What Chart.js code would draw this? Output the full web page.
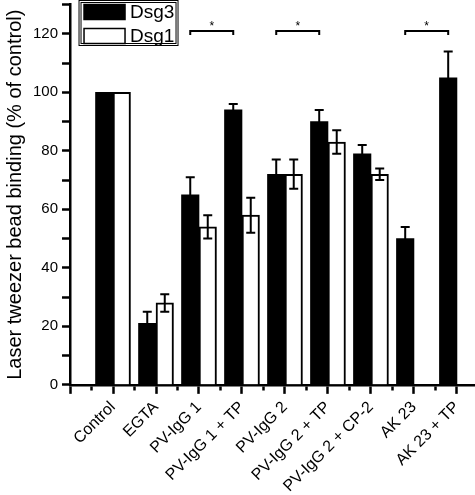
<!DOCTYPE html>
<html>
<head>
<meta charset="utf-8">
<script src="https://cdn.jsdelivr.net/npm/chart.js@4.4.0/dist/chart.umd.min.js"></script>
<style>
  html, body { margin: 0; padding: 0; background: #fff; }
  #wrap { width: 475px; height: 495px; }
</style>
</head>
<body>
<div id="wrap"><canvas id="myChart"></canvas></div>
<script>
var categories = ["Control", "EGTA", "PV-IgG 1", "PV-IgG 1 + TP", "PV-IgG 2",
  "PV-IgG 2 + TP", "PV-IgG 2 + CP-2", "AK 23", "AK 23 + TP"];
var dsg3Values = [100, 21, 65, 94, 72, 90, 79, 50, 105];
var dsg3Errors = [0, 4, 6, 2, 5, 4, 3, 4, 9];
var dsg1Values = [100, 28, 54, 58, 72, 83, 72, null, null];
var dsg1Errors = [0, 3, 4, 6, 5, 4, 2, null, null];
// Dsg3 bars joined by a significance bracket (category indexes)
var sigPairs = [[2, 3], [4, 5], [7, 8]];
var sigLevel = 121;
var yLabelled = [0, 20, 40, 60, 80, 100, 120];

var FONT = "'Liberation Sans', Arial, Helvetica, sans-serif";

function toPoints(values) {
  return values.map(function (v, i) { return { x: i + 1, y: v }; });
}

// error bars with caps, drawn on top of the bars
var errorBars = {
  id: 'errorBars',
  afterDatasetsDraw: function (chart) {
    var ctx = chart.ctx, yScale = chart.scales.y;
    chart.data.datasets.forEach(function (ds, di) {
      var meta = chart.getDatasetMeta(di);
      meta.data.forEach(function (bar, i) {
        var v = ds.data[i].y, e = ds.errors[i];
        if (v == null || !e) return;
        var top = yScale.getPixelForValue(v + e);
        var bot = yScale.getPixelForValue(v - e);
        ctx.save();
        ctx.strokeStyle = '#000';
        ctx.lineWidth = 2;
        ctx.beginPath();
        ctx.moveTo(bar.x, top); ctx.lineTo(bar.x, bot);
        ctx.moveTo(bar.x - 4.5, top); ctx.lineTo(bar.x + 4.5, top);
        ctx.moveTo(bar.x - 4.5, bot); ctx.lineTo(bar.x + 4.5, bot);
        ctx.stroke();
        ctx.restore();
      });
    });
  }
};

// "*" brackets between Dsg3 bars
var sigBrackets = {
  id: 'sigBrackets',
  afterDatasetsDraw: function (chart) {
    var ctx = chart.ctx, yScale = chart.scales.y;
    var bars = chart.getDatasetMeta(0).data;
    var y = yScale.getPixelForValue(sigLevel);
    ctx.save();
    ctx.strokeStyle = '#000';
    ctx.fillStyle = '#000';
    ctx.lineWidth = 2;
    ctx.font = '12px ' + FONT;
    ctx.textAlign = 'center';
    ctx.textBaseline = 'alphabetic';
    sigPairs.forEach(function (p) {
      var x1 = bars[p[0]].x, x2 = bars[p[1]].x;
      ctx.beginPath();
      ctx.moveTo(x1, y + 4); ctx.lineTo(x1, y); ctx.lineTo(x2, y); ctx.lineTo(x2, y + 4);
      ctx.stroke();
      ctx.fillText('*', (x1 + x2) / 2, y - 1);
    });
    ctx.restore();
  }
};

// framed legend sitting inside the top-left of the plot
var boxLegend = {
  id: 'boxLegend',
  afterDraw: function (chart) {
    var ctx = chart.ctx;
    var left = chart.chartArea.left + 9, top = 0.5;
    ctx.save();
    ctx.fillStyle = '#fff';
    ctx.fillRect(left, top, 99, 45);
    ctx.strokeStyle = '#000';
    ctx.lineWidth = 1;
    ctx.strokeRect(left, top, 99, 45);
    ctx.strokeRect(left + 2, top + 2, 95, 41);
    ctx.font = '19px ' + FONT;
    ctx.textBaseline = 'middle';
    chart.data.datasets.forEach(function (ds, i) {
      var by = top + 4 + i * 24;
      ctx.fillStyle = ds.backgroundColor;
      ctx.fillRect(left + 5, by, 41, 15);
      ctx.strokeStyle = '#000';
      ctx.lineWidth = 1.5;
      ctx.strokeRect(left + 5, by, 41, 15);
      ctx.fillStyle = '#000';
      ctx.fillText(ds.label, left + 51, by + 8);
    });
    ctx.restore();
  }
};

var catTicks = [];
for (var t = 0; t <= categories.length; t += 0.5) catTicks.push(t);

new Chart("myChart", {
  type: "bar",
  data: {
    datasets: [{
      label: "Dsg3",
      data: toPoints(dsg3Values),
      errors: dsg3Errors,
      backgroundColor: "#000000",
      borderColor: "#000000",
      borderWidth: 0
    }, {
      label: "Dsg1",
      data: toPoints(dsg1Values),
      errors: dsg1Errors,
      backgroundColor: "#ffffff",
      borderColor: "#000000",
      borderWidth: 2
    }]
  },
  options: {
    responsive: true,
    maintainAspectRatio: false,
    animation: false,
    layout: { padding: { left: 3, top: 2, right: 0, bottom: -5 } },
    barThickness: 17.5,
    plugins: {
      legend: { display: false },
      tooltip: { enabled: false }
    },
    scales: {
      x: {
        type: 'linear',
        offset: false,
        min: 0,
        max: 9.42,
        afterBuildTicks: function (scale) {
          scale.ticks = catTicks.map(function (v) { return { value: v }; });
        },
        border: { color: '#000', width: 2.5 },
        grid: {
          offset: false,
          drawOnChartArea: false,
          tickLength: 9,
          tickColor: '#000',
          tickWidth: 2.5,
          tickBorderDash: function (c) {
            if (!c.tick) return [];
            return Number.isInteger(c.tick.value) ? [] : [4, 40];
          }
        },
        ticks: {
          autoSkip: false,
          minRotation: 45,
          maxRotation: 45,
          color: '#000',
          padding: 4,
          font: { family: FONT, size: 16 },
          callback: function (value) {
            return Number.isInteger(value) && value > 0 ? categories[value - 1] : '';
          }
        }
      },
      y: {
        min: 0,
        max: 130,
        border: { color: '#000', width: 2.5 },
        grid: {
          drawOnChartArea: false,
          tickLength: 8,
          tickColor: '#000',
          tickWidth: 2.5
        },
        ticks: {
          stepSize: 10,
          color: '#000',
          padding: 4,
          font: function (c) {
            // the unlabelled top tick should not reserve label room
            return { family: FONT, size: c.tick && c.tick.value > 120 ? 1 : 15 };
          },
          callback: function (value) {
            return yLabelled.indexOf(value) >= 0 ? value : '';
          }
        },
        title: {
          display: true,
          text: 'Laser tweezer bead binding (% of control)',
          color: '#000',
          padding: { top: 0, bottom: 2 },
          font: { family: FONT, size: 20 }
        }
      }
    }
  },
  plugins: [errorBars, sigBrackets, boxLegend]
});
</script>
</body>
</html>
